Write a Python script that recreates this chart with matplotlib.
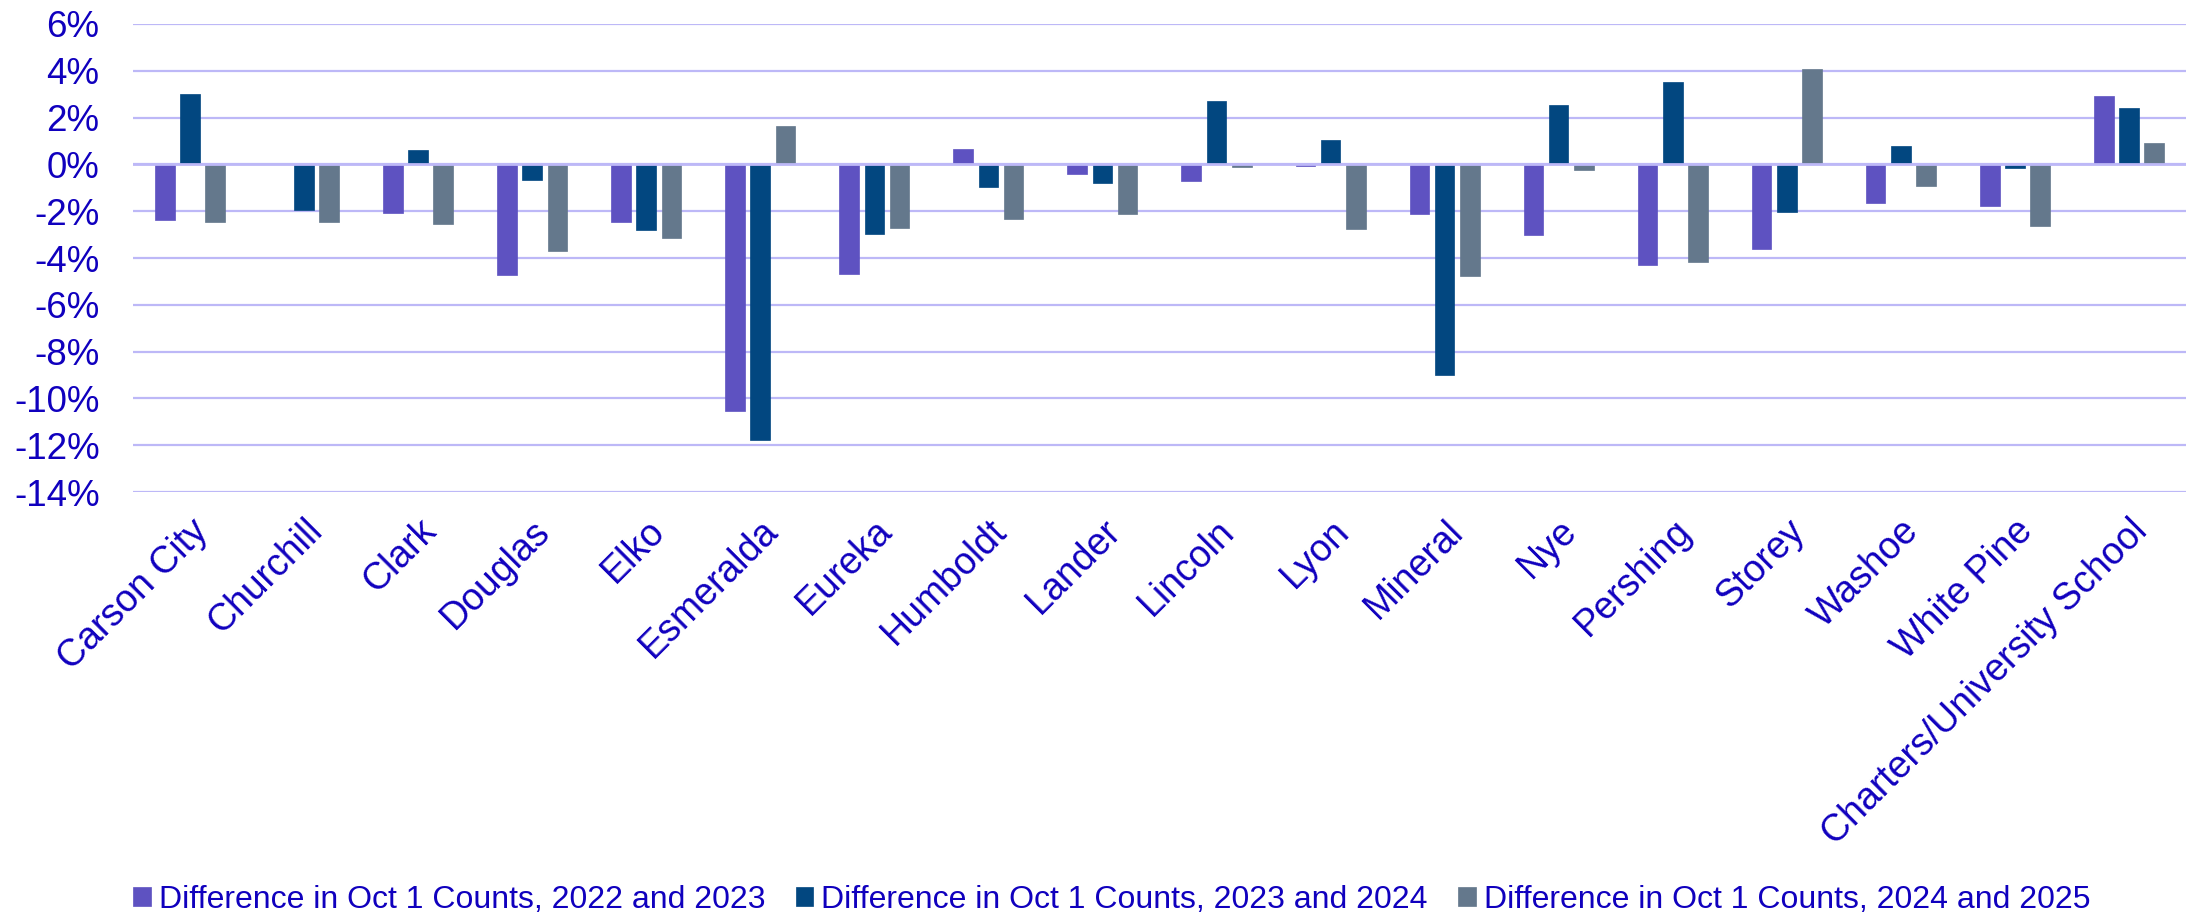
import matplotlib
matplotlib.use("Agg")
import matplotlib.pyplot as plt
import numpy as np
from matplotlib.ticker import FuncFormatter, MultipleLocator

categories = ["Carson City", "Churchill", "Clark", "Douglas", "Elko", "Esmeralda",
              "Eureka", "Humboldt", "Lander", "Lincoln", "Lyon", "Mineral", "Nye",
              "Pershing", "Storey", "Washoe", "White Pine", "Charters/University School"]

diff_2022_2023 = [-2.36, 0.0, -2.09, -4.74, -2.45, -10.53, -4.70, 0.67, -0.41, -0.71,
                  -0.07, -2.12, -3.02, -4.29, -3.63, -1.65, -1.78, 2.92]
diff_2023_2024 = [2.99, -1.95, 0.61, -0.68, -2.79, -11.78, -2.98, -0.98, -0.81, 2.71,
                  1.05, -9.02, 2.52, 3.50, -2.02, 0.78, -0.17, 2.41]
diff_2024_2025 = [-2.48, -2.48, -2.55, -3.72, -3.16, 1.65, -2.72, -2.34, -2.14, -0.11,
                  -2.78, -4.77, -0.24, -4.19, 4.07, -0.93, -2.64, 0.93]

series_labels = ["Difference in Oct 1 Counts, 2022 and 2023",
                 "Difference in Oct 1 Counts, 2023 and 2024",
                 "Difference in Oct 1 Counts, 2024 and 2025"]
colors = ["#5E52C1", "#024780", "#64788C"]
text_color = "#1000BE"
grid_color = "#BDB8F7"

plt.rcParams['font.family'] = ['Liberation Sans', 'DejaVu Sans']

fig = plt.figure(figsize=(21.97, 9.19), dpi=100)
ax = fig.add_axes([0.0605, 0.4646, 0.9345, 0.5093])

x = np.arange(len(categories))
w = 0.172
step = 0.221
for i, (vals, lab, c) in enumerate(zip([diff_2022_2023, diff_2023_2024, diff_2024_2025],
                                        series_labels, colors)):
    ax.bar(x + (i - 1) * step, vals, width=w, color=c, label=lab, zorder=3,
           edgecolor=c, linewidth=0.5)

ax.set_ylim(-14, 6)
ax.set_xlim(-0.5, len(categories) - 0.5)
ax.yaxis.set_major_locator(MultipleLocator(2))
ax.yaxis.set_major_formatter(FuncFormatter(lambda v, p: f"{v:.0f}%"))
ax.grid(axis='y', color=grid_color, linewidth=1.6, zorder=0)
ax.axhline(0, color=grid_color, linewidth=2.0, zorder=4)
for s in ax.spines.values():
    s.set_visible(False)
ax.tick_params(axis='y', length=0, pad=24, labelsize=26.5, labelcolor=text_color)
ax.tick_params(axis='x', length=0, pad=15, labelsize=27, labelcolor=text_color)
ax.set_xticks(x)
ax.set_xticklabels(categories, rotation=45, ha='right', va='top', rotation_mode='anchor')

leg = fig.legend(loc='center', bbox_to_anchor=(0.506, 0.021), ncol=3, frameon=False,
                 fontsize=23, handlelength=0.55, handleheight=0.55, handletextpad=0.25,
                 columnspacing=0.95, labelcolor=text_color, borderpad=0, borderaxespad=0)

fig.savefig("out.png", dpi=100)
